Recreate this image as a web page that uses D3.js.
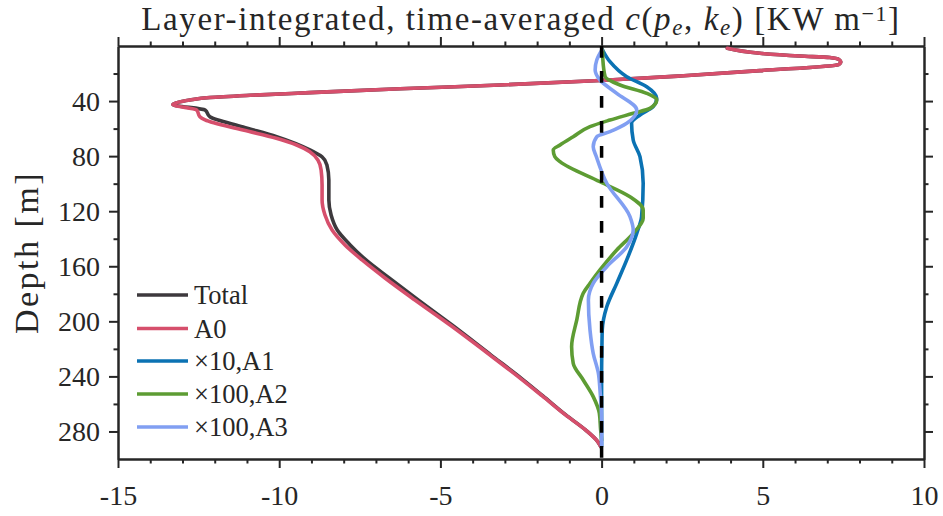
<!DOCTYPE html>
<html>
<head>
<meta charset="utf-8">
<script src="https://cdn.jsdelivr.net/npm/d3@7"></script>
<style>
  html, body { margin: 0; padding: 0; background: #fff; }
  svg { display: block; }
  text { font-family: "Liberation Serif", "Times New Roman", serif; fill: #262626; }
</style>
</head>
<body>
<svg id="chart" width="943" height="516"></svg>
<script>
// ---- Data (depth in m, value in kW/m; A1 scaled x10, A2/A3 scaled x100) ----
const depthA0 = [1.7, 5.3, 7.3, 8.4, 9.8, 11.6, 13.4, 17.9, 21.8, 25.1, 28.3, 31.1, 33.9, 35.8, 37.4, 39.2, 42.5,
  46.5, 51.4, 53.7, 61.0, 67.0, 71.9, 76.8, 82.8, 90.1, 101, 111.9, 122.8, 133.7, 144.5, 155.4, 168.5, 184.5,
  202.7, 224.5, 241.2, 254, 268, 278.9, 287.4, 291.3];
const valueA0 = [3.9, 4.91, 6.15, 7.08, 7.36, 7.42, 7.36, 4.91, 2.43, -0.05, -3.15, -6.25, -9.05, -10.9, -12.15, -12.77, -13.3,
  -12.56, -12.46, -12.30, -11.12, -10.09, -9.46, -9.05, -8.80, -8.70, -8.67, -8.67, -8.58, -8.36, -7.96, -7.43, -6.72, -5.79,
  -4.70, -3.46, -2.53, -1.85, -1.12, -0.50, -0.12, -0.02];

const depthTotal = [1.7, 5.3, 7.3, 8.4, 9.8, 11.6, 13.4, 17.9, 21.8, 25.1, 28.3, 31.1, 33.9, 35.8, 37.4, 39.2, 42.5,
  46.5, 51.4, 58.8, 65.9, 75.5, 80.6, 86.4, 97.3, 111.9, 122.8, 133.7, 144.5, 155.4, 168.5, 184.5, 202.7, 224.5,
  241.2, 254, 268, 278.9, 287.4, 291.3];
const valueTotal = [3.9, 4.91, 6.15, 7.08, 7.36, 7.42, 7.36, 4.91, 2.43, -0.05, -3.15, -6.25, -9.05, -10.9, -12.15, -12.77, -13.3,
  -12.30, -12.15, -11.12, -10.08, -9.05, -8.67, -8.52, -8.46, -8.46, -8.39, -8.20, -7.80, -7.31, -6.59, -5.69, -4.64, -3.43,
  -2.50, -1.83, -1.11, -0.50, -0.12, -0.02];

const depthA1 = [2.9, 11.4, 22.3, 29.6, 38.0, 44.1, 50.1, 56.1, 68.3, 80.4, 99.7, 124.0, 136.1, 155.4, 172.4, 189.4, 206.3, 218.4, 240, 270, 291];
const valueA1 = [0.03, 0.26, 0.78, 1.40, 1.71, 1.60, 1.19, 0.93, 0.98, 1.19, 1.29, 1.24, 1.09, 0.78, 0.47, 0.16, 0.02, 0.01, 0, 0, 0];

const depthA2 = [2.9, 10.2, 22.3, 28.3, 34.4, 39.2, 45.3, 48.9, 53.8, 58.6, 65.9, 71.9, 75.5, 80.4, 84.0, 98.6, 109.5, 119.1,
  125.2, 136.1, 148.2, 162.7, 172.4, 179.6, 199.0, 218.4, 230.5, 242.6, 254.7, 266.8, 278.9, 286.2];
const valueA2 = [0.03, 0.04, 0.11, 0.57, 1.40, 1.71, 1.50, 0.98, 0.26, -0.36, -0.88, -1.29, -1.50, -1.45, -1.29, -0.05, 0.88, 1.29,
  1.29, 0.98, 0.47, -0.05, -0.36, -0.57, -0.77, -0.93, -0.88, -0.57, -0.26, -0.07, -0.03, 0];

const depthA3 = [2.9, 10.2, 17.4, 24.7, 34.4, 46.5, 56.1, 62.2, 65.9, 73.1, 80.6, 99.7, 124.0, 133.7, 145.8, 160.3, 172.4, 184.5,
  206.3, 223.2, 237.7, 249.9, 271.7, 290];
const valueA3 = [0.01, -0.15, -0.20, -0.05, 0.47, 1.09, 0.78, 0.26, -0.15, -0.26, -0.16, 0.16, 0.88, 0.98, 0.78, 0.16, -0.26, -0.41,
  -0.36, -0.26, -0.10, -0.05, 0, 0];

const seriesNames = ["Total", "A0", "\u00d710,A1", "\u00d7100,A2", "\u00d7100,A3"];
const seriesColors = ["#3d393d", "#d64f6c", "#0b72b3", "#5d9c33", "#819ff2"];

const xMajorTicks = [-15, -10, -5, 0, 5, 10];
const yMajorTicks = [40, 80, 120, 160, 200, 240, 280];
const yMinorTicks = [20, 60, 100, 140, 180, 220, 260];

// ---- Build ----
const svg = d3.select("#chart");
const x = d3.scaleLinear().domain([-15, 10]).range([118, 924]);
const y = d3.scaleLinear().domain([0, 300]).range([46, 459]);
const xMinorTicks = d3.range(-15, 11).filter(v => !xMajorTicks.includes(v));

const axisColor = "#262626";
function styleAxis(g) {
  g.selectAll("path.domain").attr("stroke", axisColor).attr("stroke-width", 2);
  g.selectAll(".tick line").attr("stroke", axisColor).attr("stroke-width", 2);
  g.selectAll(".tick text").attr("fill", axisColor).style("font-family", '"Liberation Serif", serif').style("font-size", "28px");
  g.attr("font-family", null).attr("font-size", null);
}

// bottom
svg.append("g").attr("transform", "translate(0,459)")
  .call(d3.axisBottom(x).tickValues(xMajorTicks).tickSize(9).tickSizeOuter(0).tickPadding(17).tickFormat(d => String(d)))
  .call(styleAxis);
svg.append("g").attr("transform", "translate(0,459)")
  .call(d3.axisBottom(x).tickValues(xMinorTicks).tickSize(4.5).tickSizeOuter(0).tickFormat(""))
  .call(styleAxis);
// top
svg.append("g").attr("transform", "translate(0,46)")
  .call(d3.axisTop(x).tickValues(xMajorTicks).tickSize(9).tickSizeOuter(0).tickFormat(""))
  .call(styleAxis);
svg.append("g").attr("transform", "translate(0,46)")
  .call(d3.axisTop(x).tickValues(xMinorTicks).tickSize(4.5).tickSizeOuter(0).tickFormat(""))
  .call(styleAxis);
// left
svg.append("g").attr("transform", "translate(118,0)")
  .call(d3.axisLeft(y).tickValues(yMajorTicks).tickSize(9).tickSizeOuter(0).tickPadding(9).tickFormat(d => String(d)))
  .call(styleAxis);
svg.append("g").attr("transform", "translate(118,0)")
  .call(d3.axisLeft(y).tickValues(yMinorTicks).tickSize(4.5).tickSizeOuter(0).tickFormat(""))
  .call(styleAxis);
// right
svg.append("g").attr("transform", "translate(924,0)")
  .call(d3.axisRight(y).tickValues(yMajorTicks).tickSize(9).tickSizeOuter(0).tickFormat(""))
  .call(styleAxis);
svg.append("g").attr("transform", "translate(924,0)")
  .call(d3.axisRight(y).tickValues(yMinorTicks).tickSize(4.5).tickSizeOuter(0).tickFormat(""))
  .call(styleAxis);

// ---- Lines ----
const plot = svg.append("g");
const series = [
  { depth: depthTotal, value: valueTotal },
  { depth: depthA0, value: valueA0 },
  { depth: depthA1, value: valueA1 },
  { depth: depthA2, value: valueA2 },
  { depth: depthA3, value: valueA3 }
];
const line = d3.line().x(p => x(p[0])).y(p => y(p[1])).curve(d3.curveMonotoneY);
series.forEach((s, i) => {
  const pts = s.depth.map((d, j) => [s.value[j], d]);
  plot.append("path").datum(pts)
    .attr("d", line)
    .attr("fill", "none")
    .attr("stroke", seriesColors[i])
    .attr("stroke-width", 3.6)
    .attr("stroke-linejoin", "round")
    .attr("stroke-linecap", "round");
});

// zero reference dashed line
plot.append("line")
  .attr("x1", x(0)).attr("x2", x(0)).attr("y1", y(0)).attr("y2", y(300))
  .attr("stroke", "#000").attr("stroke-width", 3.5)
  .attr("stroke-dasharray", "11.7,13.3");

// ---- Title ----
const title = svg.append("text")
  .attr("x", (x(-15) + x(10)) / 2).attr("y", 30)
  .attr("text-anchor", "middle")
  .style("font-size", "33px")
  .style("letter-spacing", "1.6px");
title.append("tspan").text("Layer-integrated, time-averaged ");
title.append("tspan").style("font-style", "italic").text("c");
title.append("tspan").text("(");
title.append("tspan").style("font-style", "italic").text("p");
title.append("tspan").style("font-style", "italic").style("font-size", "23px").attr("dy", 5).text("e");
title.append("tspan").attr("dy", -5).text(", ");
title.append("tspan").style("font-style", "italic").text("k");
title.append("tspan").style("font-style", "italic").style("font-size", "23px").attr("dy", 5).text("e");
title.append("tspan").attr("dy", -5).text(") [KW m");
title.append("tspan").style("font-size", "22px").attr("dy", -9).text("\u22121");
title.append("tspan").attr("dy", 9).text("]");

// ---- Y label ----
svg.append("text")
  .attr("transform", `translate(38,${(y(0) + y(300)) / 2}) rotate(-90)`)
  .attr("text-anchor", "middle")
  .style("font-size", "34px")
  .style("letter-spacing", "2.5px")
  .text("Depth [m]");

// ---- Legend ----
const legend = svg.append("g");
const legendRows = [295, 328.5, 361, 394, 427];
seriesNames.forEach((name, i) => {
  legend.append("line")
    .attr("x1", 137).attr("x2", 188).attr("y1", legendRows[i]).attr("y2", legendRows[i])
    .attr("stroke", seriesColors[i]).attr("stroke-width", 3.6);
  legend.append("text")
    .attr("x", 194).attr("y", legendRows[i] + 9)
    .style("font-size", "26.5px")
    .text(name);
});
</script>
</body>
</html>
